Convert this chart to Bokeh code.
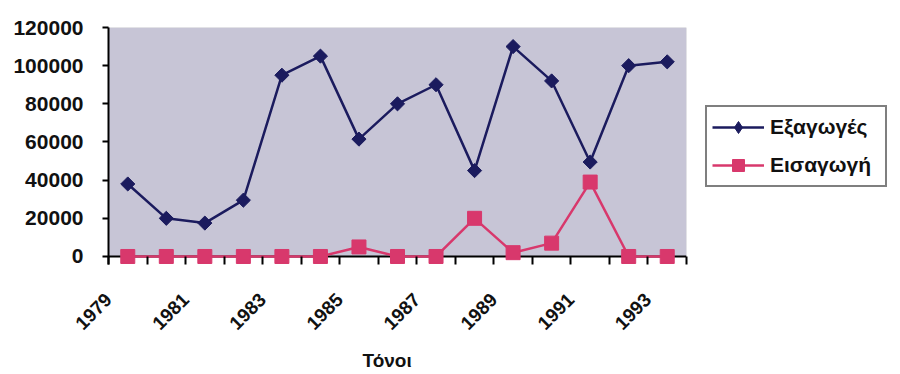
import numpy as np
from bokeh.plotting import figure
from bokeh.models import (Range1d, FixedTicker, BoxAnnotation, Span, Legend,
                          LegendItem, ColumnDataSource, NumeralTickFormatter,
                          Title)
from bokeh.embed import file_html
from bokeh.resources import INLINE

# Annual quantities (tonnes)
years = [1979, 1980, 1981, 1982, 1983, 1984, 1985, 1986, 1987, 1988,
         1989, 1990, 1991, 1992, 1993]
exports = [38000, 20000, 17500, 29500, 95000, 105000, 61500, 80000, 90000,
           45000, 110000, 92000, 49500, 100000, 102000]
imports = [0, 0, 0, 0, 0, 0, 5000, 0, 0, 20000, 2000, 7000, 39000, 0, 0]
y_ticks = [0, 20000, 40000, 60000, 80000, 100000, 120000]
labelled_years = [1979, 1981, 1983, 1985, 1987, 1989, 1991, 1993]

FONT = "Liberation Sans"
NAVY = "#1b1b5e"
PINK = "#d8386c"
PANEL = "#c7c5d6"

idx = list(range(len(years)))
src = ColumnDataSource(dict(x=idx, exp=exports, imp=imports))

p = figure(frame_width=578, frame_height=237, output_backend="svg",
           toolbar_location=None,
           x_range=Range1d(-0.5, len(years) - 0.5),
           y_range=Range1d(-4200, 120000),
           min_border_left=108, min_border_right=214,
           min_border_top=27, min_border_bottom=110)
p.background_fill_color = "white"
p.border_fill_color = "white"
p.outline_line_color = None
p.grid.visible = False

# shaded plot area from 0 up to the top of the value axis
p.add_layout(BoxAnnotation(bottom=0, top=120000, fill_color=PANEL, fill_alpha=1,
                           line_color="#8c8c96", line_width=1, level="underlay"))
p.add_layout(Span(location=0, dimension="width", line_color="black",
                  line_width=2, level="underlay"))

# value axis
ya = p.yaxis[0]
ya.ticker = FixedTicker(ticks=y_ticks)
ya.formatter = NumeralTickFormatter(format="0")
ya.axis_line_width = 2
ya.axis_line_color = "black"
ya.major_tick_out = 6
ya.major_tick_in = 0
ya.minor_tick_out = 0
ya.minor_tick_in = 0
ya.major_tick_line_width = 2
ya.major_label_text_font = FONT
ya.major_label_text_font_style = "bold"
ya.major_label_text_font_size = "21px"
ya.major_label_text_color = "#111111"
ya.major_label_standoff = 19

# category axis: rotated year labels hang from the left edge of their
# category, tick marks sit between categories
xa = p.xaxis[0]
label_pos = [years.index(y) - 0.5 for y in labelled_years]
xa.ticker = FixedTicker(ticks=label_pos,
                        minor_ticks=[i - 0.5 for i in range(len(years) + 1)])
xa.major_label_overrides = {pos: str(y) for pos, y in zip(label_pos, labelled_years)}
xa.axis_line_color = None
xa.major_tick_in = 0
xa.major_tick_out = 0
xa.minor_tick_in = 8
xa.minor_tick_out = 0
xa.minor_tick_line_color = "black"
xa.minor_tick_line_width = 2
xa.major_label_orientation = np.pi / 4
xa.major_label_text_font = FONT
xa.major_label_text_font_style = "bold"
xa.major_label_text_font_size = "19px"
xa.major_label_text_color = "#111111"
xa.major_label_standoff = 32

# axis caption under the year labels
cap = Title(text="Τόνοι", align="left", offset=254, standoff=18,
            text_font=FONT, text_font_style="bold", text_font_size="19px",
            text_color="#111111")
p.add_layout(cap, "below")

l1 = p.line("x", "exp", source=src, line_color=NAVY, line_width=2.5)
s1 = p.scatter("x", "exp", source=src, marker="square", angle=np.pi / 4,
               size=10, fill_color=NAVY, line_color=NAVY)
l2 = p.line("x", "imp", source=src, line_color=PINK, line_width=2.5)
s2 = p.scatter("x", "imp", source=src, marker="square", size=14,
               fill_color=PINK, line_color=PINK)
# diamond kept off-screen, used only for the legend swatch
k1 = p.scatter([-10], [-100000], marker="diamond", size=15, fill_color=NAVY,
               line_color=NAVY)

legend = Legend(items=[LegendItem(label="Εξαγωγές", renderers=[l1, k1]),
                       LegendItem(label="Εισαγωγή", renderers=[l2, s2])],
                location="center_left")
legend.margin = 19
legend.padding = 5
legend.spacing = 8
legend.glyph_width = 52
legend.glyph_height = 30
legend.label_height = 30
legend.label_width = 110
legend.label_standoff = 6
legend.label_text_font = FONT
legend.label_text_font_style = "bold"
legend.label_text_font_size = "21px"
legend.label_text_color = "#111111"
legend.border_line_color = "black"
legend.border_line_width = 2
legend.background_fill_color = "white"
p.add_layout(legend, "right")

open("out.html", "w").write(file_html(p, INLINE))
